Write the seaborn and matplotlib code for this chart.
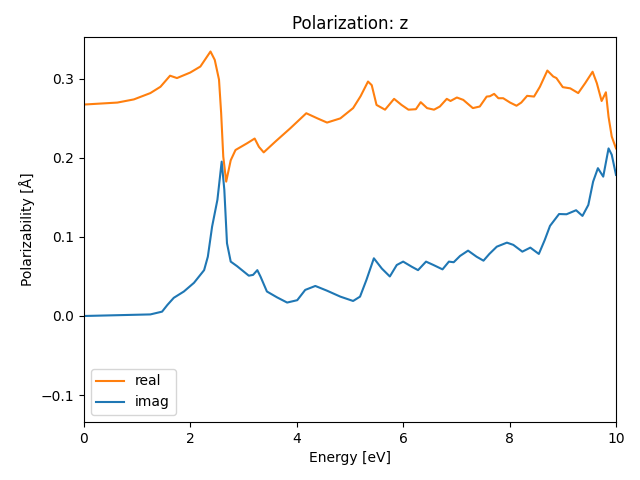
import matplotlib
matplotlib.use("Agg")
import matplotlib.pyplot as plt
import seaborn as sns
import pandas as pd

energy_real = [0.0, 0.63, 0.94, 1.25, 1.44, 1.62, 1.75, 2.0, 2.19, 2.38, 2.46, 2.54, 2.58, 2.62, 2.675,
               2.76, 2.85, 3.07, 3.21, 3.29, 3.38, 3.60, 3.88, 4.18, 4.39, 4.57, 4.82, 5.06, 5.20, 5.34,
               5.41, 5.50, 5.66, 5.83, 5.97, 6.10, 6.24, 6.33, 6.45, 6.58, 6.69, 6.82, 6.89, 7.01, 7.13,
               7.31, 7.44, 7.57, 7.63, 7.71, 7.79, 7.88, 8.01, 8.13, 8.22, 8.33, 8.46, 8.57, 8.71, 8.82,
               8.88, 9.00, 9.14, 9.29, 9.42, 9.56, 9.64, 9.73, 9.81, 9.86, 9.92, 10.0]
real = [0.2675, 0.270, 0.274, 0.282, 0.290, 0.304, 0.301, 0.308, 0.3156, 0.3346, 0.324, 0.299, 0.257,
        0.2017, 0.170, 0.197, 0.210, 0.2186, 0.2245, 0.214, 0.207, 0.2207, 0.2375, 0.2565, 0.250,
        0.2447, 0.250, 0.263, 0.278, 0.2966, 0.292, 0.267, 0.261, 0.2747, 0.267, 0.261, 0.2616, 0.2705,
        0.263, 0.261, 0.265, 0.2747, 0.272, 0.2764, 0.2734, 0.263, 0.265, 0.2776, 0.278, 0.281, 0.2755,
        0.2755, 0.270, 0.266, 0.270, 0.2785, 0.2776, 0.290, 0.3105, 0.303, 0.301, 0.2895, 0.288, 0.282,
        0.2945, 0.309, 0.2945, 0.272, 0.283, 0.252, 0.227, 0.212]

energy_imag = [0.0, 1.25, 1.47, 1.57, 1.69, 1.88, 2.07, 2.26, 2.33, 2.41, 2.51, 2.59, 2.64, 2.69, 2.76,
               2.88, 3.10, 3.18, 3.26, 3.32, 3.44, 3.63, 3.82, 4.01, 4.16, 4.35, 4.57, 4.82, 5.06, 5.19,
               5.31, 5.45, 5.60, 5.75, 5.88, 6.00, 6.16, 6.28, 6.43, 6.57, 6.74, 6.86, 6.95, 7.07, 7.22,
               7.38, 7.51, 7.62, 7.76, 7.95, 8.07, 8.24, 8.39, 8.55, 8.66, 8.76, 8.93, 9.07, 9.25, 9.37,
               9.48, 9.57, 9.66, 9.76, 9.86, 9.92, 10.0]
imag = [0.000, 0.002, 0.0055, 0.014, 0.023, 0.031, 0.042, 0.058, 0.075, 0.113, 0.147, 0.1953, 0.1595,
        0.092, 0.0688, 0.063, 0.051, 0.052, 0.058, 0.0498, 0.031, 0.0236, 0.017, 0.020, 0.033, 0.038,
        0.032, 0.0245, 0.019, 0.0245, 0.0456, 0.073, 0.060, 0.050, 0.0645, 0.0688, 0.0624, 0.058, 0.0688,
        0.0645, 0.059, 0.0688, 0.068, 0.076, 0.0827, 0.075, 0.070, 0.0785, 0.0877, 0.0928, 0.090, 0.0814,
        0.0865, 0.0785, 0.096, 0.114, 0.129, 0.1287, 0.1338, 0.1266, 0.1405, 0.170, 0.187, 0.1763, 0.212,
        0.204, 0.1785]

df = pd.concat([
    pd.DataFrame({"Energy": energy_real, "value": real, "part": "real"}),
    pd.DataFrame({"Energy": energy_imag, "value": imag, "part": "imag"}),
], ignore_index=True)

fig, ax = plt.subplots(figsize=(6.4, 4.8), dpi=100)
sns.lineplot(data=df, x="Energy", y="value", hue="part", hue_order=["real", "imag"],
             palette={"real": "#ff7f0e", "imag": "#1f77b4"}, estimator=None, sort=True,
             linewidth=1.5, ax=ax)
ax.set_xlim(0, 10)
ax.set_ylim(-0.134, 0.353)
ax.set_xlabel("Energy [eV]")
ax.set_ylabel("Polarizability [Å]")
ax.set_title("Polarization: z")
ax.legend(loc="lower left", title=None)
fig.subplots_adjust(left=0.131, right=0.9625, top=0.923, bottom=0.121)
fig.savefig("out.png", dpi=100)
